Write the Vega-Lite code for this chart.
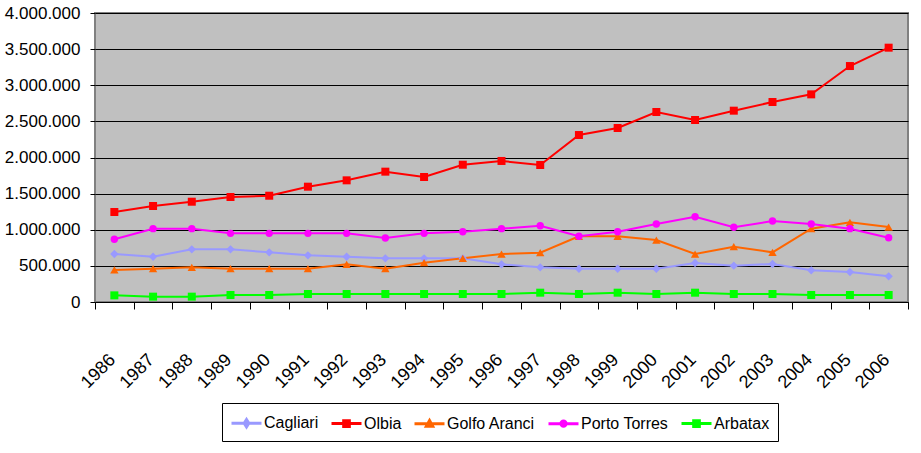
{
  "$schema": "https://vega.github.io/schema/vega-lite/v6.json",
  "width": 813,
  "height": 289,
  "autosize": {"type": "none"},
  "padding": {"left": 95, "top": 13, "right": 13, "bottom": 151},
  "background": "white",
  "config": {
    "locale": {"number": {"decimal": ",", "thousands": ".", "grouping": [3], "currency": ["€", ""]}},
    "view": {"fill": "#c0c0c0", "stroke": "#808080", "strokeWidth": 2},
    "font": "Liberation Sans"
  },
  "data": {
    "values": [
      {"year": "1986", "port": "Cagliari", "value": 664000},
      {"year": "1987", "port": "Cagliari", "value": 627000},
      {"year": "1988", "port": "Cagliari", "value": 729000},
      {"year": "1989", "port": "Cagliari", "value": 729000},
      {"year": "1990", "port": "Cagliari", "value": 687000},
      {"year": "1991", "port": "Cagliari", "value": 646000},
      {"year": "1992", "port": "Cagliari", "value": 627000},
      {"year": "1993", "port": "Cagliari", "value": 604000},
      {"year": "1994", "port": "Cagliari", "value": 604000},
      {"year": "1995", "port": "Cagliari", "value": 604000},
      {"year": "1996", "port": "Cagliari", "value": 521000},
      {"year": "1997", "port": "Cagliari", "value": 480000},
      {"year": "1998", "port": "Cagliari", "value": 461000},
      {"year": "1999", "port": "Cagliari", "value": 461000},
      {"year": "2000", "port": "Cagliari", "value": 461000},
      {"year": "2001", "port": "Cagliari", "value": 540000},
      {"year": "2002", "port": "Cagliari", "value": 503000},
      {"year": "2003", "port": "Cagliari", "value": 526000},
      {"year": "2004", "port": "Cagliari", "value": 438000},
      {"year": "2005", "port": "Cagliari", "value": 415000},
      {"year": "2006", "port": "Cagliari", "value": 355000},
      {"year": "1986", "port": "Olbia", "value": 1246000},
      {"year": "1987", "port": "Olbia", "value": 1329000},
      {"year": "1988", "port": "Olbia", "value": 1388000},
      {"year": "1989", "port": "Olbia", "value": 1453000},
      {"year": "1990", "port": "Olbia", "value": 1471000},
      {"year": "1991", "port": "Olbia", "value": 1596000},
      {"year": "1992", "port": "Olbia", "value": 1684000},
      {"year": "1993", "port": "Olbia", "value": 1804000},
      {"year": "1994", "port": "Olbia", "value": 1730000},
      {"year": "1995", "port": "Olbia", "value": 1900000},
      {"year": "1996", "port": "Olbia", "value": 1952000},
      {"year": "1997", "port": "Olbia", "value": 1896000},
      {"year": "1998", "port": "Olbia", "value": 2311000},
      {"year": "1999", "port": "Olbia", "value": 2408000},
      {"year": "2000", "port": "Olbia", "value": 2630000},
      {"year": "2001", "port": "Olbia", "value": 2519000},
      {"year": "2002", "port": "Olbia", "value": 2648000},
      {"year": "2003", "port": "Olbia", "value": 2768000},
      {"year": "2004", "port": "Olbia", "value": 2874000},
      {"year": "2005", "port": "Olbia", "value": 3266000},
      {"year": "2006", "port": "Olbia", "value": 3520000},
      {"year": "1986", "port": "Golfo Aranci", "value": 443000},
      {"year": "1987", "port": "Golfo Aranci", "value": 461000},
      {"year": "1988", "port": "Golfo Aranci", "value": 480000},
      {"year": "1989", "port": "Golfo Aranci", "value": 461000},
      {"year": "1990", "port": "Golfo Aranci", "value": 461000},
      {"year": "1991", "port": "Golfo Aranci", "value": 461000},
      {"year": "1992", "port": "Golfo Aranci", "value": 521000},
      {"year": "1993", "port": "Golfo Aranci", "value": 461000},
      {"year": "1994", "port": "Golfo Aranci", "value": 544000},
      {"year": "1995", "port": "Golfo Aranci", "value": 604000},
      {"year": "1996", "port": "Golfo Aranci", "value": 664000},
      {"year": "1997", "port": "Golfo Aranci", "value": 683000},
      {"year": "1998", "port": "Golfo Aranci", "value": 909000},
      {"year": "1999", "port": "Golfo Aranci", "value": 909000},
      {"year": "2000", "port": "Golfo Aranci", "value": 858000},
      {"year": "2001", "port": "Golfo Aranci", "value": 664000},
      {"year": "2002", "port": "Golfo Aranci", "value": 766000},
      {"year": "2003", "port": "Golfo Aranci", "value": 687000},
      {"year": "2004", "port": "Golfo Aranci", "value": 1015000},
      {"year": "2005", "port": "Golfo Aranci", "value": 1103000},
      {"year": "2006", "port": "Golfo Aranci", "value": 1038000},
      {"year": "1986", "port": "Porto Torres", "value": 868000},
      {"year": "1987", "port": "Porto Torres", "value": 1015000},
      {"year": "1988", "port": "Porto Torres", "value": 1015000},
      {"year": "1989", "port": "Porto Torres", "value": 950000},
      {"year": "1990", "port": "Porto Torres", "value": 950000},
      {"year": "1991", "port": "Porto Torres", "value": 950000},
      {"year": "1992", "port": "Porto Torres", "value": 950000},
      {"year": "1993", "port": "Porto Torres", "value": 886000},
      {"year": "1994", "port": "Porto Torres", "value": 950000},
      {"year": "1995", "port": "Porto Torres", "value": 973000},
      {"year": "1996", "port": "Porto Torres", "value": 1015000},
      {"year": "1997", "port": "Porto Torres", "value": 1056000},
      {"year": "1998", "port": "Porto Torres", "value": 909000},
      {"year": "1999", "port": "Porto Torres", "value": 973000},
      {"year": "2000", "port": "Porto Torres", "value": 1080000},
      {"year": "2001", "port": "Porto Torres", "value": 1181000},
      {"year": "2002", "port": "Porto Torres", "value": 1034000},
      {"year": "2003", "port": "Porto Torres", "value": 1121000},
      {"year": "2004", "port": "Porto Torres", "value": 1080000},
      {"year": "2005", "port": "Porto Torres", "value": 1015000},
      {"year": "2006", "port": "Porto Torres", "value": 890000},
      {"year": "1986", "port": "Arbatax", "value": 92000},
      {"year": "1987", "port": "Arbatax", "value": 74000},
      {"year": "1988", "port": "Arbatax", "value": 74000},
      {"year": "1989", "port": "Arbatax", "value": 97000},
      {"year": "1990", "port": "Arbatax", "value": 97000},
      {"year": "1991", "port": "Arbatax", "value": 111000},
      {"year": "1992", "port": "Arbatax", "value": 111000},
      {"year": "1993", "port": "Arbatax", "value": 111000},
      {"year": "1994", "port": "Arbatax", "value": 111000},
      {"year": "1995", "port": "Arbatax", "value": 111000},
      {"year": "1996", "port": "Arbatax", "value": 111000},
      {"year": "1997", "port": "Arbatax", "value": 129000},
      {"year": "1998", "port": "Arbatax", "value": 111000},
      {"year": "1999", "port": "Arbatax", "value": 129000},
      {"year": "2000", "port": "Arbatax", "value": 111000},
      {"year": "2001", "port": "Arbatax", "value": 129000},
      {"year": "2002", "port": "Arbatax", "value": 111000},
      {"year": "2003", "port": "Arbatax", "value": 111000},
      {"year": "2004", "port": "Arbatax", "value": 97000},
      {"year": "2005", "port": "Arbatax", "value": 97000},
      {"year": "2006", "port": "Arbatax", "value": 97000}
    ]
  },
  "encoding": {
    "x": {
      "field": "year",
      "type": "ordinal",
      "bandPosition": 0.5,
      "scale": {"type": "band", "paddingInner": 0, "paddingOuter": 0},
      "axis": {
        "title": null,
        "grid": false,
        "tickBand": "extent",
        "tickSize": 7,
        "tickColor": "black",
        "domainColor": "black",
        "domainWidth": 1,
        "labelAngle": -45,
        "labelAlign": "right",
        "labelBaseline": "middle",
        "labelPadding": 48,
        "labelOffset": -2,
        "labelFontSize": 18,
        "labelColor": "black",
        "labelFont": "Liberation Sans"
      }
    },
    "y": {
      "field": "value",
      "type": "quantitative",
      "scale": {"domain": [0, 4000000], "nice": false},
      "axis": {
        "title": null,
        "values": [0, 500000, 1000000, 1500000, 2000000, 2500000, 3000000, 3500000, 4000000],
        "format": ",d",
        "grid": true,
        "gridColor": "black",
        "gridWidth": 1,
        "gridOpacity": 1,
        "domain": false,
        "tickColor": "black",
        "tickSize": 5,
        "labelPadding": 10,
        "labelFontSize": 17,
        "labelColor": "black",
        "labelFont": "Liberation Sans"
      }
    },
    "color": {
      "field": "port",
      "type": "nominal",
      "scale": {
        "domain": ["Cagliari", "Olbia", "Golfo Aranci", "Porto Torres", "Arbatax"],
        "range": ["#9999ff", "#ff0000", "#ff6600", "#ff00ff", "#00ff00"]
      },
      "legend": {
        "title": null,
        "orient": "none",
        "legendX": 127,
        "legendY": 390,
        "direction": "horizontal",
        "strokeColor": "black",
        "padding": 8,
        "symbolSize": 441,
        "symbolStrokeWidth": 3,
        "labelFontSize": 16,
        "labelFont": "Liberation Sans",
        "labelColor": "black",
        "labelOffset": 10,
        "columnPadding": 6,
        "encode": {
          "symbols": {
            "update": {
              "shape": {"signal": "datum.value === 'Cagliari' ? 'M-1,0H1.857M0.43,-0.35L0.65,0L0.43,0.35L0.21,0Z' : datum.value === 'Golfo Aranci' ? 'M-1,0H1.857M0.43,-0.32L0.73,0.22H0.13Z' : datum.value === 'Porto Torres' ? 'M-1,0H1.857M0.18,0A0.25,0.25,0,1,1,0.68,0A0.25,0.25,0,1,1,0.18,0Z' : 'M-1,0H1.857M0.16,-0.27H0.7V0.27H0.16Z'"},
              "fill": {"scale": "color", "field": "value"},
              "stroke": {"scale": "color", "field": "value"},
              "strokeWidth": {"value": 3},
              "size": {"value": 441},
              "opacity": {"value": 1}
            }
          }
        }
      }
    }
  },
  "layer": [
    {"mark": {"type": "line", "strokeWidth": 2}},
    {
      "transform": [{"filter": {"field": "port", "oneOf": ["Cagliari"]}}],
      "mark": {"type": "point", "filled": true, "opacity": 1, "size": 70, "shape": "diamond"}
    },
    {
      "transform": [{"filter": {"field": "port", "oneOf": ["Olbia", "Arbatax"]}}],
      "mark": {"type": "point", "filled": true, "opacity": 1, "size": 64, "shape": "square"}
    },
    {
      "transform": [{"filter": {"field": "port", "oneOf": ["Golfo Aranci"]}}],
      "mark": {"type": "point", "filled": true, "opacity": 1, "size": 70, "shape": "triangle-up"}
    },
    {
      "transform": [{"filter": {"field": "port", "oneOf": ["Porto Torres"]}}],
      "mark": {"type": "point", "filled": true, "opacity": 1, "size": 55, "shape": "circle"}
    }
  ]
}
